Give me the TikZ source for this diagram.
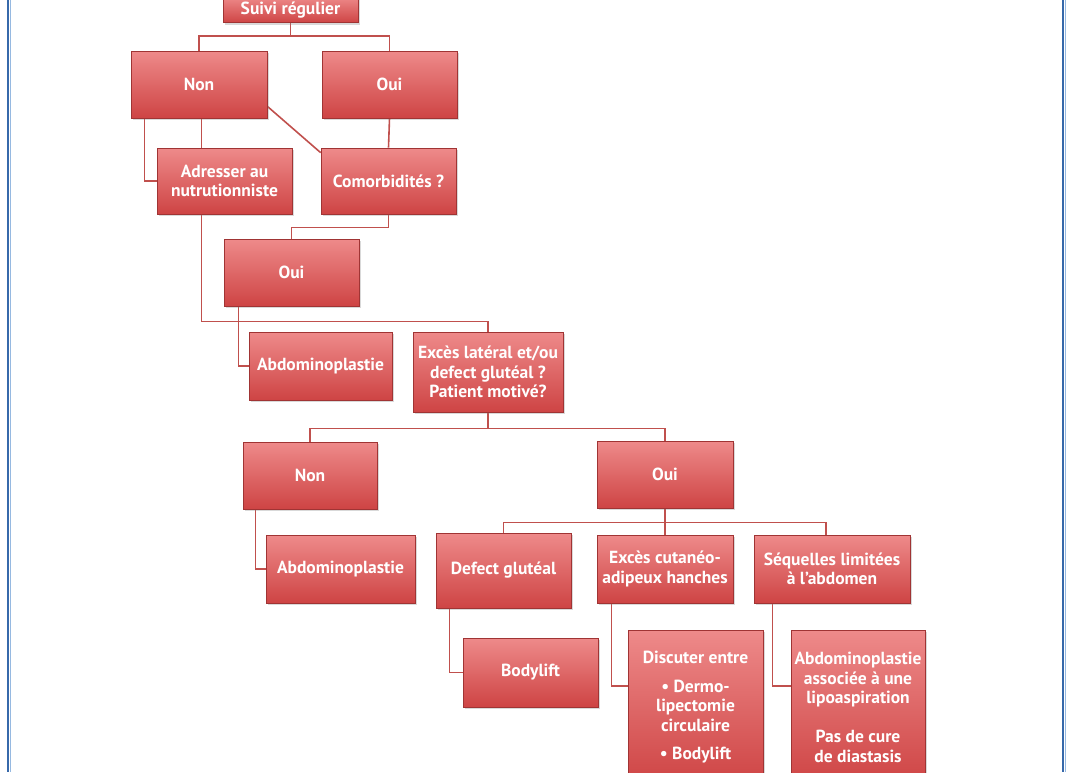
\documentclass[tikz,border=0pt]{standalone}
\usepackage{fontspec}
\setmainfont{PT Sans}
\usetikzlibrary{calc,shadows,backgrounds}

\definecolor{boxtop}{RGB}{238,138,138}
\definecolor{boxmid}{RGB}{222,88,88}
\definecolor{boxbot}{RGB}{206,68,68}
\definecolor{boxedge}{RGB}{160,52,52}
\definecolor{linkred}{RGB}{192,80,77}
\definecolor{frameblue}{RGB}{55,105,170}
\definecolor{framelight}{RGB}{150,185,225}

\tikzset{
  box/.style={draw=boxedge, line width=0.7pt, top color=boxtop, middle color=boxmid,
    bottom color=boxbot, text=white, align=center, inner sep=2pt,
    font=\bfseries\fontsize{17.5}{19.5}\selectfont,
    drop shadow={opacity=0.3, shadow xshift=1.5pt, shadow yshift=-2pt}},
  link/.style={draw=linkred, line width=1.6pt},
}

\begin{document}
\begin{tikzpicture}[x=1pt, y=-1pt]
        \useasboundingbox (0,0) rectangle (1072,772);
        % frame
        \draw[frameblue, line width=2.6pt] (8,0) -- (8,772);
        \draw[framelight, line width=0.8pt] (10,0) -- (10,772);
        \draw[frameblue, line width=2.6pt] (1063,0) -- (1063,772);
        \draw[framelight, line width=0.8pt] (1065,0) -- (1065,772);
        % boxes
        \node[box, minimum width=135pt, minimum height=26pt, anchor=south] (suivi) at (290.5,23) {Suivi régulier};
        \node[box, minimum width=136pt, minimum height=67pt] (non1) at (199,84.5) {Non};
        \node[box, minimum width=135pt, minimum height=67pt] (oui1) at (389.5,84.5) {Oui};
        \node[box, minimum width=135pt, minimum height=66pt] (adr) at (224.5,181) {Adresser au\\nutrutionniste};
        \node[box, minimum width=135pt, minimum height=66pt] (com) at (388.5,181) {Comorbidités ?};
        \node[box, minimum width=135pt, minimum height=67pt] (oui2) at (291.5,272.5) {Oui};
        \node[box, minimum width=143pt, minimum height=68pt] (abd1) at (320.5,366) {Abdominoplastie};
        \node[box, minimum width=150pt, minimum height=80pt] (exc) at (488,372) {Excès latéral et/ou\\defect glutéal ?\\Patient motivé?};
        \node[box, minimum width=134pt, minimum height=67pt] (non3) at (310,475.5) {Non};
        \node[box, minimum width=136pt, minimum height=67pt] (oui3) at (665,474.5) {Oui};
        \node[box, minimum width=149pt, minimum height=68pt] (abd2) at (340.5,569) {Abdominoplastie};
        \node[box, minimum width=135pt, minimum height=75pt] (def) at (503.5,570.5) {Defect glutéal};
        \node[box, minimum width=136pt, minimum height=68pt] (cut) at (665,569) {Excès cutanéo-\\adipeux hanches};
        \node[box, minimum width=156pt, minimum height=68pt] (seq) at (832,569) {Séquelles limitées\\à l'abdomen};
        \node[box, minimum width=135pt, minimum height=69pt] (body) at (530.5,672.5) {Bodylift};
        \node[box, minimum width=135pt, minimum height=155pt] (disc) at (695.5,707.5) {Discuter entre\\[9pt]• Dermo-\\lipectomie\\circulaire\\[9pt]• Bodylift};
        \node[box, minimum width=134pt, minimum height=155pt] (abda) at (858,707.5) {Abdominoplastie\\associée à une\\lipoaspiration\\[19.5pt]Pas de cure\\de diastasis};
        % connectors
        \begin{pgfonlayer}{background}
        \draw[link] (suivi.south) -- ++(0,13) -| (non1.north);
        \draw[link] (suivi.south) -- ++(0,13) -| (oui1.north);
        \draw[link] (non1.south west) ++(14,0) |- (adr.west);
        \draw[link] (adr.north west) ++(45,0) -- ++(0,-30);
        \draw[link] ([yshift=12pt]non1.south east) -- ([yshift=-5pt]com.north west);
        \draw[link] (oui1.south) -- (com.north);
        \draw[link] (com.south) -- ++(0,13) -| (oui2.north);
        \draw[link] (adr.south west) ++(45,0) -- ++(0,107) -| (exc.north);
        \draw[link] (oui2.south west) ++(15,0) |- (abd1.west);
        \draw[link] (exc.south) -- ++(0,16) -| (non3.north);
        \draw[link] (exc.south) -- ++(0,16) -| (oui3.north);
        \draw[link] (non3.south west) ++(13,0) |- (abd2.west);
        \draw[link] (oui3.south) -- ++(0,14) -| (def.north);
        \draw[link] (oui3.south) -- (cut.north);
        \draw[link] (oui3.south) -- ++(0,14) -| ([xshift=-6pt]seq.north);
        \draw[link] (def.south west) ++(14,0) |- (body.west);
        \draw[link] (cut.south west) ++(15,0) |- ([yshift=21.5pt]disc.west);
        \draw[link] (seq.south west) ++(19,0) |- ([yshift=21.5pt]abda.west);
        \end{pgfonlayer}
\end{tikzpicture}
\end{document}
